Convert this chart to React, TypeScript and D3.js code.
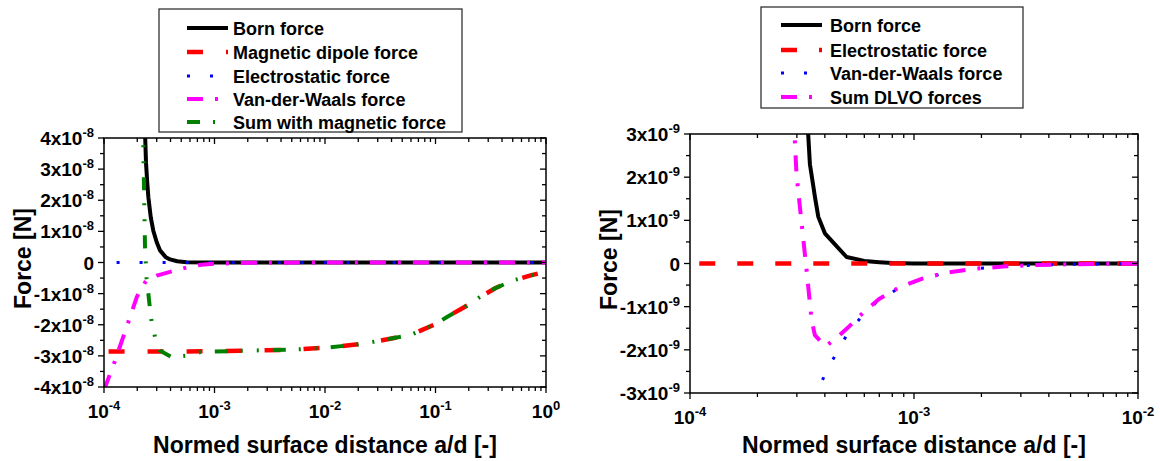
import React from 'react';
import * as d3 from 'd3';

type Pt = [number, number];

// ---------- Left chart data (force in units of 1e-8 N) ----------
const leftXExps = [-4, -3, -2, -1, 0];
const leftYTicks = [-4, -3, -2, -1, 0, 1, 2, 3, 4];

const leftBorn: Pt[] = [
  [2.33e-4, 4.6], [2.36e-4, 4.0], [2.40e-4, 3.2], [2.46e-4, 2.6], [2.52e-4, 2.1],
  [2.65e-4, 1.45], [2.79e-4, 1.03], [3.0e-4, 0.65], [3.21e-4, 0.39], [3.6e-4, 0.18],
  [3.96e-4, 0.1], [4.6e-4, 0.04], [5.6e-4, 0.01], [1e-3, 0], [1e-2, 0], [1e-1, 0], [1, 0],
];
const leftDipole: Pt[] = [
  [1.1e-4, -2.86], [2e-4, -2.86], [5e-4, -2.86], [1e-3, -2.85], [2e-3, -2.83],
  [5e-3, -2.8], [1e-2, -2.74], [2e-2, -2.63], [3.15e-2, -2.51], [5e-2, -2.38],
  [6.3e-2, -2.29], [0.1, -1.98], [0.126, -1.76], [0.2, -1.35], [0.252, -1.11],
  [0.35, -0.82], [0.5, -0.58], [0.7, -0.43], [0.9, -0.33],
];
const leftElectro: Pt[] = [[1.3e-4, 0], [1e-3, 0], [1, 0]];
const leftVdW: Pt[] = [
  [1e-4, -4.1], [1.26e-4, -3.15], [1.6e-4, -2.08], [1.98e-4, -1.11], [2.12e-4, -0.9],
  [2.43e-4, -0.56], [2.8e-4, -0.47], [3.0e-4, -0.42], [3.96e-4, -0.3], [5.6e-4, -0.16],
  [7.6e-4, -0.07], [9.8e-4, -0.04], [2e-3, -0.01], [1e-2, 0], [1, 0],
];
const leftSum: Pt[] = [
  [2.24e-4, 4.6], [2.27e-4, 3.76], [2.3e-4, 2.45], [2.35e-4, 0.5], [2.43e-4, -0.52],
  [2.52e-4, -1.0], [2.6e-4, -1.45], [2.7e-4, -1.92], [2.9e-4, -2.4], [3.2e-4, -2.83],
  [4.1e-4, -3.04], [5.6e-4, -2.99], [7.4e-4, -2.88], [1e-3, -2.86], [2e-3, -2.83],
  [5e-3, -2.8], [1e-2, -2.74], [2e-2, -2.63], [3.15e-2, -2.51], [5e-2, -2.38],
  [6.3e-2, -2.29], [0.1, -1.98], [0.126, -1.76], [0.2, -1.35], [0.252, -1.11],
  [0.35, -0.82], [0.5, -0.58], [0.7, -0.43], [0.9, -0.33],
];

// ---------- Right chart data (force in units of 1e-9 N) ----------
const rightXExps = [-4, -3, -2];
const rightYTicks = [-3, -2, -1, 0, 1, 2, 3];

const rightBorn: Pt[] = [
  [3.30e-4, 3.6], [3.37e-4, 3.0], [3.43e-4, 2.3], [3.55e-4, 1.8], [3.61e-4, 1.55],
  [3.74e-4, 1.08], [4.0e-4, 0.7], [5.0e-4, 0.15], [6e-4, 0.06], [7e-4, 0.03],
  [8e-4, 0.01], [1e-3, 0], [1e-2, 0],
];
const rightElectro: Pt[] = [[1.1e-4, 0], [1e-3, 0], [1e-2, 0]];
const rightVdW: Pt[] = [
  [3.62e-4, -3.2], [3.7e-4, -2.97], [4.03e-4, -2.54], [4.51e-4, -2.07], [5.06e-4, -1.62],
  [5.9e-4, -1.2], [6.98e-4, -0.84], [8.7e-4, -0.55], [1.09e-3, -0.35], [1.4e-3, -0.21],
  [1.8e-3, -0.13], [2.5e-3, -0.07], [3.5e-3, -0.035], [5e-3, -0.017], [7e-3, -0.008],
  [1e-2, -0.004],
];
const rightSum: Pt[] = [
  [2.9e-4, 3.5], [2.94e-4, 2.8], [2.99e-4, 2.05], [3.15e-4, 0.93], [3.32e-4, -0.19],
  [3.49e-4, -1.31], [3.61e-4, -1.66], [4.03e-4, -1.92], [4.51e-4, -1.72], [5.06e-4, -1.49],
  [5.9e-4, -1.15], [6.98e-4, -0.82], [8.7e-4, -0.54], [1.09e-3, -0.35], [1.4e-3, -0.21],
  [1.8e-3, -0.13], [2.5e-3, -0.07], [3.5e-3, -0.035], [5e-3, -0.017], [7e-3, -0.008],
  [1e-2, -0.004],
];

const leftLegendLabels = ['Born force', 'Magnetic dipole force', 'Electrostatic force', 'Van-der-Waals force', 'Sum with magnetic force'];
const rightLegendLabels = ['Born force', 'Electrostatic force', 'Van-der-Waals force', 'Sum DLVO forces'];

const FONT = '"Liberation Sans", Arial, Helvetica, sans-serif';

interface Style { color: string; width: number; dash?: string; cap?: string }

const S_BORN: Style = { color: '#000000', width: 4 };
const S_RED_L: Style = { color: '#ff0000', width: 4.5, dash: '16,23' };
const S_RED_R: Style = { color: '#ff0000', width: 4.5, dash: '16,22' };
const S_BLUE: Style = { color: '#0000ff', width: 3, dash: '3,20' };
const S_MAG: Style = { color: '#ff00ff', width: 4, dash: '16,12,3,12' };
const S_GREEN: Style = { color: '#008000', width: 4, dash: '13,13,2,14,2,14' };

interface Series { data: Pt[]; style: Style }

interface ChartProps {
  id: string;
  x0: number; x1: number; y0: number; y1: number;
  xExps: number[];
  yTicks: number[];
  yExp: number;
  series: Series[];
  yTitleX: number;
}

function Sup({ base, sup, x, y, anchor, size, supSize }: any) {
  return (
    <text x={x} y={y} textAnchor={anchor} fontFamily={FONT} fontWeight="bold" fontSize={size} fill="#000">
      <tspan>{base}</tspan>
      {sup !== undefined && <tspan dy={-8} fontSize={supSize}>{sup}</tspan>}
    </text>
  );
}

function Chart(p: ChartProps) {
  const xs = d3.scaleLog().domain([Math.pow(10, p.xExps[0]), Math.pow(10, p.xExps[p.xExps.length - 1])]).range([p.x0, p.x1]);
  const ymax = p.yTicks[p.yTicks.length - 1];
  const ymin = p.yTicks[0];
  const ys = d3.scaleLinear().domain([ymin, ymax]).range([p.y1, p.y0]);
  const line = d3.line<Pt>().x(d => xs(d[0])).y(d => ys(d[1]));

  const majorX = p.xExps.map(e => Math.pow(10, e));
  const minorX: number[] = [];
  for (let i = 0; i < p.xExps.length - 1; i++) {
    for (let k = 2; k <= 9; k++) minorX.push(k * Math.pow(10, p.xExps[i]));
  }
  const minorY: number[] = [];
  for (let i = 0; i < p.yTicks.length - 1; i++) minorY.push((p.yTicks[i] + p.yTicks[i + 1]) / 2);

  const M = 6, m = 4;
  const tickStroke = { stroke: '#000', strokeWidth: 1.3 };
  return (
    <g>
      <defs>
        <clipPath id={p.id}>
          <rect x={p.x0} y={p.y0} width={p.x1 - p.x0} height={p.y1 - p.y0} />
        </clipPath>
      </defs>
      <g clipPath={`url(#${p.id})`}>
        {p.series.map((s, i) => (
          <path key={i} d={line(s.data) || ''} fill="none" stroke={s.style.color}
            strokeWidth={s.style.width} strokeDasharray={s.style.dash}
            strokeLinejoin="round" strokeLinecap="butt" />
        ))}
      </g>
      <rect x={p.x0} y={p.y0} width={p.x1 - p.x0} height={p.y1 - p.y0} fill="none" stroke="#000" strokeWidth={1.5} />
      {majorX.map((v, i) => (
        <g key={'mx' + i}>
          <line x1={xs(v)} x2={xs(v)} y1={p.y1} y2={p.y1 + M} {...tickStroke} />
          <line x1={xs(v)} x2={xs(v)} y1={p.y0} y2={p.y0 + M} {...tickStroke} />
          <Sup base="10" sup={String(p.xExps[i])} x={xs(v)} y={p.y1 + 31} anchor="middle" size={19} supSize={13} />
        </g>
      ))}
      {minorX.map((v, i) => (
        <g key={'nx' + i}>
          <line x1={xs(v)} x2={xs(v)} y1={p.y1} y2={p.y1 + m} {...tickStroke} />
          <line x1={xs(v)} x2={xs(v)} y1={p.y0} y2={p.y0 + m} {...tickStroke} />
        </g>
      ))}
      {p.yTicks.map((v, i) => (
        <g key={'my' + i}>
          <line x1={p.x0 - M} x2={p.x0} y1={ys(v)} y2={ys(v)} {...tickStroke} />
          <line x1={p.x1 - M} x2={p.x1} y1={ys(v)} y2={ys(v)} {...tickStroke} />
          {v === 0
            ? <Sup base="0" x={p.x0 - 10} y={ys(v) + 7} anchor="end" size={19} />
            : <Sup base={`${v}x10`} sup={String(p.yExp)} x={p.x0 - 10} y={ys(v) + 7} anchor="end" size={19} supSize={13} />}
        </g>
      ))}
      {minorY.map((v, i) => (
        <g key={'ny' + i}>
          <line x1={p.x0 - m} x2={p.x0} y1={ys(v)} y2={ys(v)} {...tickStroke} />
          <line x1={p.x1 - m} x2={p.x1} y1={ys(v)} y2={ys(v)} {...tickStroke} />
        </g>
      ))}
      <text x={(p.x0 + p.x1) / 2} y={453} textAnchor="middle" fontFamily={FONT} fontWeight="bold" fontSize={23}>
        Normed surface distance a/d [-]
      </text>
      <text transform={`translate(${p.yTitleX},${(p.y0 + p.y1) / 2 - 4}) rotate(-90)`} textAnchor="middle" dy="0.36em"
        fontFamily={FONT} fontWeight="bold" fontSize={23}>
        Force [N]
      </text>
    </g>
  );
}

interface LegendProps {
  bx: number; by: number; bw: number; bh: number;
  sx0: number; sx1: number; tx: number; rowY: number[];
  labels: string[]; styles: Style[];
}

function Legend(p: LegendProps) {
  return (
    <g>
      <rect x={p.bx} y={p.by} width={p.bw} height={p.bh} fill="#fff" stroke="#222" strokeWidth={1.2} />
      {p.labels.map((lab, i) => (
        <g key={i}>
          <line x1={p.sx0} x2={p.sx1} y1={p.rowY[i]} y2={p.rowY[i]} stroke={p.styles[i].color}
            strokeWidth={p.styles[i].width} strokeDasharray={p.styles[i].dash} />
          <text x={p.tx} y={p.rowY[i] + 6.5} fontFamily={FONT} fontWeight="bold" fontSize={18}>{lab}</text>
        </g>
      ))}
    </g>
  );
}

export default function App() {
  const leftStyles = [S_BORN, S_RED_L, S_BLUE, S_MAG, S_GREEN];
  const rightStyles = [S_BORN, S_RED_R, S_BLUE, S_MAG];
  const leftData = [leftBorn, leftDipole, leftElectro, leftVdW, leftSum];
  const rightData = [rightBorn, rightElectro, rightVdW, rightSum];
  return (
    <svg width={1160} height={461} style={{ position: 'absolute', left: 0, top: 0, background: '#fff' }}>
      <rect x={0} y={0} width={1160} height={461} fill="#fff" />
      <Chart id="clipL" x0={104} x1={546} y0={138} y1={387} xExps={leftXExps} yTicks={leftYTicks} yExp={-8}
        series={leftData.map((d, i) => ({ data: d, style: leftStyles[i] }))} yTitleX={23} />
      <Chart id="clipR" x0={690} x1={1138} y0={134} y1={393} xExps={rightXExps} yTicks={rightYTicks} yExp={-9}
        series={rightData.map((d, i) => ({ data: d, style: rightStyles[i] }))} yTitleX={609} />
      <Legend bx={159} by={9} bw={303} bh={123} sx0={187} sx1={228} tx={233}
        rowY={[28, 52, 76, 99, 122]} labels={leftLegendLabels} styles={leftStyles} />
      <Legend bx={761} by={7} bw={262} bh={101} sx0={781} sx1={822} tx={830}
        rowY={[25, 50, 73, 97]} labels={rightLegendLabels} styles={rightStyles} />
    </svg>
  );
}
